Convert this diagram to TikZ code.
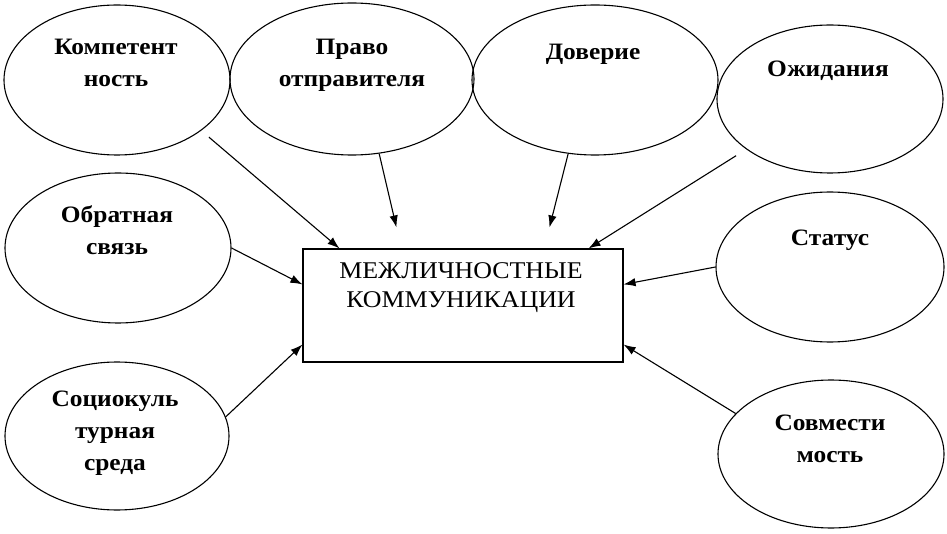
\documentclass[tikz,border=0pt]{standalone}
\usepackage{fontspec}
\setmainfont{Liberation Serif}[FakeStretch=1.08]
\usetikzlibrary{positioning,shapes.geometric,arrows.meta}

\begin{document}
\begin{tikzpicture}[x=1pt,y=-1pt,
  factor/.style={ellipse, draw, line width=1.1pt, inner sep=0pt},
  factortext/.style={align=center, inner sep=0pt, anchor=base, font=\fontsize{23.5}{32}\selectfont\bfseries},
  arr/.style={-{Latex[length=12pt,width=8.5pt]}, line width=1.1pt}]
\useasboundingbox (0,0) rectangle (947,534);

% outer factors
\node (komp) [factor, minimum width=226pt, minimum height=150pt] at (117,80) {};
\node (prav) [factor, minimum width=244pt, minimum height=152pt] at (352,79) {};
\node (dov)  [factor, minimum width=246pt, minimum height=150pt] at (595,80) {};
\node (ozh)  [factor, minimum width=226pt, minimum height=148pt] at (830,99) {};
\node (obr)  [factor, minimum width=226pt, minimum height=150pt] at (118,248) {};
\node (stat) [factor, minimum width=228pt, minimum height=150pt] at (830,267) {};
\node (soc)  [factor, minimum width=224pt, minimum height=148pt] at (117,436) {};
\node (sovm) [factor, minimum width=226pt, minimum height=148pt] at (831,454) {};

% labels (base = last line)
\node (komp-t) [factortext] at (116,87) {Компетент\\ность};
\node (prav-t) [factortext] at (352,87) {Право\\отправителя};
\node (dov-t)  [factortext] at (593,60) {Доверие};
\node (ozh-t)  [factortext] at (828,77) {Ожидания};
\node (obr-t)  [factortext] at (117,255) {Обратная\\связь};
\node (stat-t) [factortext] at (830,246) {Статус};
\node (soc-t)  [factortext] at (115,470) {Социокуль\\турная\\среда};
\node (sovm-t) [factortext] at (830,462) {Совмести\\мость};

% centre
\node (box) [draw, line width=1.1pt, minimum width=320pt, minimum height=113pt, inner sep=0pt] at (463,305.5) {};
\node (box-t) [align=center, inner sep=0pt, anchor=base, font=\fontsize{24}{29}\selectfont] at (461,308) {МЕЖЛИЧНОСТНЫЕ\\КОММУНИКАЦИИ};

\draw[arr, shorten <=10pt] (komp.-31) -- ([xshift=37pt]box.north west);
\draw[arr] (prav.-70) -- ([xshift=94pt,yshift=21pt]box.north west);
\draw[arr] (dov.-110) -- ([xshift=247pt,yshift=21pt]box.north west);
\draw[arr, shorten <=12pt] (ozh.-149) -- ([xshift=-35pt]box.north east);
\draw[arr] (obr.east) -- ([yshift=-36pt]box.north west);
\draw[arr] (stat.west) -- ([yshift=-36pt]box.north east);
\draw[arr] (soc.10) -- ([yshift=18pt]box.south west);
\draw[arr] (sovm.157) -- ([yshift=18pt]box.south east);
\end{tikzpicture}
\end{document}
